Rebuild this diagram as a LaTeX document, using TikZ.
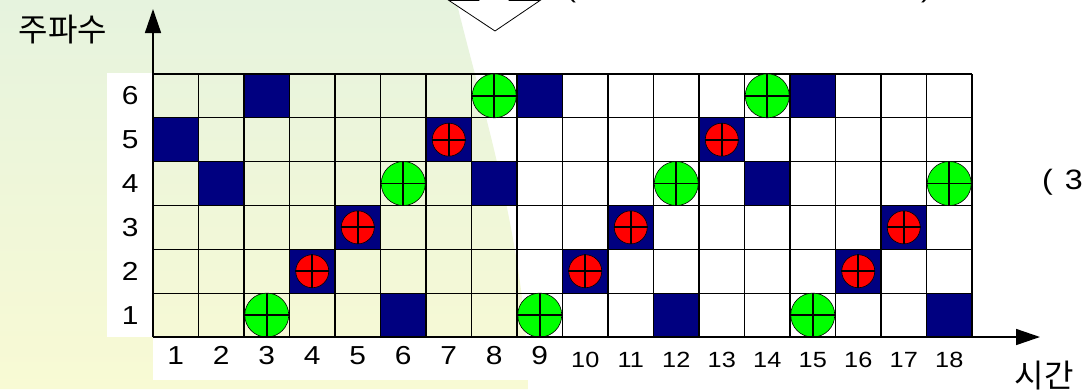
\documentclass[tikz,border=0pt]{standalone}
\usepackage{fontspec}
\setmainfont{Liberation Sans}[FakeStretch=1.15]
\newfontfamily\kofont{Noto Sans CJK KR}
\usetikzlibrary{arrows.meta,positioning}
\definecolor{slotnavy}{RGB}{0,0,128}
\definecolor{hopred}{RGB}{255,0,0}
\definecolor{hopgreen}{RGB}{0,255,0}
\definecolor{bgtop}{RGB}{230,243,222}
\definecolor{bgbot}{RGB}{248,250,212}

\begin{document}
\begin{tikzpicture}[x=1pt,y=-1pt,
  lbl/.style={font=\fontsize{26}{26}\selectfont,inner sep=0pt},
  lblsm/.style={font=\fontsize{22}{22}\selectfont,inner sep=0pt},
  kor/.style={font=\kofont\fontsize{32}{32}\selectfont,inner sep=0pt},
  axis/.style={-{Triangle[length=24pt,width=16pt]},line width=1.5pt},
  redhop/.style={circle,draw=black,line width=0.6pt,fill=hopred,minimum size=33pt,inner sep=0pt},
  greenhop/.style={circle,draw=black,line width=0.6pt,fill=hopgreen,minimum size=44pt,inner sep=0pt},
  cross/.style={line width=1.8pt}
]
  \useasboundingbox (0,0) rectangle (1084,389);
  \fill[white] (0,0) rectangle (1084,389);

  % slide background
  \shade[top color=bgtop,bottom color=bgbot]
    (0,0) -- (456,0) .. controls (480,100) and (528,250) .. (528,389) -- (0,389) -- cycle;
  \fill[white] (107,73) rectangle (153,337);
  \fill[white] (153,337) rectangle (528,380);

  % block arrow and notes cut by the frame
  \draw[fill=white,line width=0.8pt] (479,-40) -- (479,0.5) -- (449,0.5) -- (495,31)
    -- (540,0.5) -- (509,0.5) -- (509,-40);
  \node[lbl,anchor=base west] (note) at (566,-3) {(\hspace{345pt})};
  \node[lbl,font=\fontsize{28}{28}\selectfont,anchor=west] (side) at (1042,182) {(\hspace{12pt}3};

  \begin{scope}[shift={(153,337)},x=45.5pt,y=43.85pt]
    \foreach \c/\r in {1/5,2/4,3/6,6/1,8/4,9/6,12/1,14/4,15/6,18/1,
                       4/2,5/3,7/5,10/2,11/3,13/5,16/2,17/3}
      \fill[slotnavy] (\c-1,\r-1) rectangle (\c,\r);
    \foreach \c in {0,...,18}
      \draw[line width=1.2pt] (\c,0) -- (\c,6);
    \foreach \r in {0,...,6}
      \draw[line width=1.2pt] (0,\r) -- (18,\r);

    \foreach \c/\r in {4/2,5/3,7/5,10/2,11/3,13/5,16/2,17/3} {
      \node[redhop] (r\c-\r) at (\c-0.5,\r-0.5) {};
      \draw[cross] (r\c-\r.north) -- (r\c-\r.south) (r\c-\r.west) -- (r\c-\r.east);
    }
    \foreach \c/\r in {3/1,6/4,8/6,9/1,12/4,14/6,15/1,18/4} {
      \node[greenhop] (g\c-\r) at (\c-0.5,\r-0.5) {};
      \draw[cross] (g\c-\r.north) -- (g\c-\r.south) (g\c-\r.west) -- (g\c-\r.east);
    }

    \foreach \r in {1,...,6}
      \node[lbl] (row\r) at (-0.5,\r-0.5) {\r};
    \foreach \c in {1,...,9}
      \node[lbl] (col\c) at (\c-0.5,-0.43) {\c};
    \foreach \c in {10,...,18}
      \node[lblsm] (col\c) at (\c-0.5,-0.52) {\c};
  \end{scope}

  % axes
  \coordinate (orig) at (153,337);
  \coordinate (ytip) at (153,9);
  \coordinate (xtip) at (1040,337);
  \draw[axis] (orig) -- (ytip);
  \draw[axis] (orig) -- (xtip);
  \node[kor] (ylab) at (63,30) {주파수};
  \node[kor] (xlab) at (1044,376) {시간};
\end{tikzpicture}
\end{document}
